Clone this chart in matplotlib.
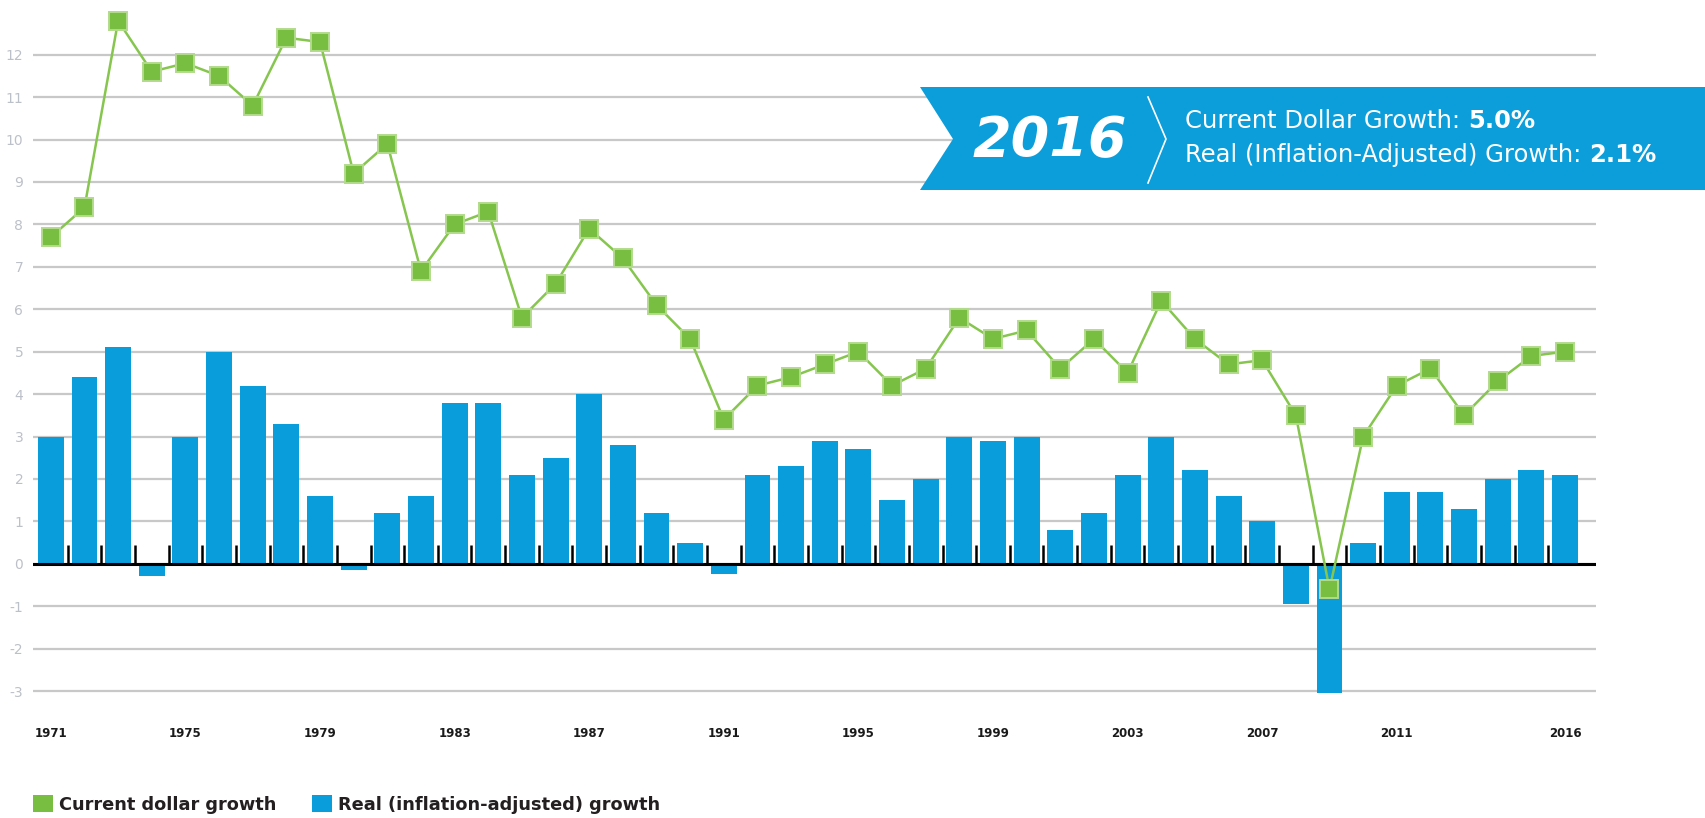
import numpy as np
import matplotlib
matplotlib.use("Agg")
import matplotlib.pyplot as plt
from matplotlib.patches import Polygon, Patch
from matplotlib.lines import Line2D

plt.rcParams['axes.unicode_minus'] = False
plt.rcParams['font.family'] = ['DejaVu Sans']

# ---- data ----
years = list(range(1971, 2017))
current_growth = [7.7, 8.4, 12.8, 11.6, 11.8, 11.5, 10.8, 12.4, 12.3, 9.2,
                  9.9, 6.9, 8.0, 8.3, 5.8, 6.6, 7.9, 7.2, 6.1, 5.3,
                  3.4, 4.2, 4.4, 4.7, 5.0, 4.2, 4.6, 5.8, 5.3, 5.5,
                  4.6, 5.3, 4.5, 6.2, 5.3, 4.7, 4.8, 3.5, -0.6, 3.0,
                  4.2, 4.6, 3.5, 4.3, 4.9, 5.0]
real_growth = [3.0, 4.4, 5.1, -0.3, 3.0, 5.0, 4.2, 3.3, 1.6, -0.15,
               1.2, 1.6, 3.8, 3.8, 2.1, 2.5, 4.0, 2.8, 1.2, 0.5,
               -0.25, 2.1, 2.3, 2.9, 2.7, 1.5, 2.0, 3.0, 2.9, 3.0,
               0.8, 1.2, 2.1, 3.0, 2.2, 1.6, 1.0, -0.95, -3.05, 0.5,
               1.7, 1.7, 1.3, 2.0, 2.2, 2.1]
xtick_years = [1971, 1975, 1979, 1983, 1987, 1991, 1995, 1999, 2003, 2007, 2011, 2016]
ytick_values = list(range(-3, 13))
banner_year = "2016"
banner_current = 5.0
banner_real = 2.1
legend_labels = ["Current dollar growth", "Real (inflation-adjusted) growth"]

GREEN = '#78bf41'
GREEN_EDGE = '#b2da8c'
BLUE = '#0a9ddb'

W, H = 1706, 818
fig = plt.figure(figsize=(W / 100, H / 100), dpi=100)
ax = fig.add_axes([33 / W, 1 - 708 / H, (1596 - 33) / W, 708 / H])
ax.set_xlim(1970.47, 2016.92)
ax.set_ylim(-3.4, 13.29)
for s in ax.spines.values():
    s.set_visible(False)

ax.set_yticks(ytick_values)
ax.set_yticklabels([str(v) for v in ytick_values])
ax.yaxis.grid(True, color='#c8c8c8', lw=1.6)
ax.set_axisbelow(True)
ax.tick_params(axis='y', length=0, pad=7, labelsize=10, labelcolor='#bcc0c8')

ax.set_xticks(xtick_years)
ax.set_xticklabels([str(y) for y in xtick_years], fontweight='bold')
ax.tick_params(axis='x', length=0, pad=14, labelsize=8.5, labelcolor='#1a1a1a')

ax.bar(years, real_growth, width=0.77, color=BLUE, zorder=2)
ax.axhline(0, color='black', lw=2.2, zorder=3)
ax.vlines(np.array(years[:-1]) + 0.5, 0, 0.45, color='black', lw=1.8, zorder=3)
ax.plot(years, current_growth, color='#86c64f', lw=1.8, marker='s', ms=13.5,
        mfc=GREEN, mec=GREEN_EDGE, mew=1.4, zorder=4)

# ---- banner ----
def fx(px):
    return px / W

def fy(py):
    return 1 - py / H

banner = Polygon([(fx(920), fy(87)), (fx(1706), fy(87)), (fx(1706), fy(190)),
                  (fx(920), fy(190)), (fx(953), fy(139))],
                 closed=True, transform=fig.transFigure, facecolor='#0c9edb',
                 edgecolor='none', zorder=10)
fig.patches.append(banner)
fig.text(fx(1050), fy(141), banner_year, color='white', fontsize=40,
         fontweight='bold', fontstyle='italic', ha='center', va='center', zorder=11)
fig.lines.append(Line2D([fx(1148), fx(1166), fx(1148)], [fy(97), fy(139), fy(183)],
                        transform=fig.transFigure, color='white', lw=1.2, zorder=11))

renderer = fig.canvas.get_renderer()
for ypx, label, val in [(121, 'Current Dollar Growth: ', banner_current),
                        (155, 'Real (Inflation-Adjusted) Growth: ', banner_real)]:
    t = fig.text(fx(1185), fy(ypx), label, color='white', fontsize=17.5,
                 ha='left', va='center', zorder=11)
    bb = t.get_window_extent(renderer)
    fig.text(bb.x1 / W, fy(ypx), f"{val:.1f}%", color='white', fontsize=17.5,
             fontweight='bold', ha='left', va='center', zorder=11)

# ---- legend ----
handles = [Patch(facecolor=GREEN, edgecolor='none'), Patch(facecolor=BLUE, edgecolor='none')]
fig.legend(handles, legend_labels, loc='center left', bbox_to_anchor=(0.0195, 0.0165),
           frameon=False, ncol=2, prop={'size': 12.8, 'weight': 'bold'},
           handlelength=1.1, handleheight=1.1, handletextpad=0.35, columnspacing=2.0,
           labelcolor='#231f20', borderpad=0, borderaxespad=0)

fig.savefig('out.png', dpi=100)
